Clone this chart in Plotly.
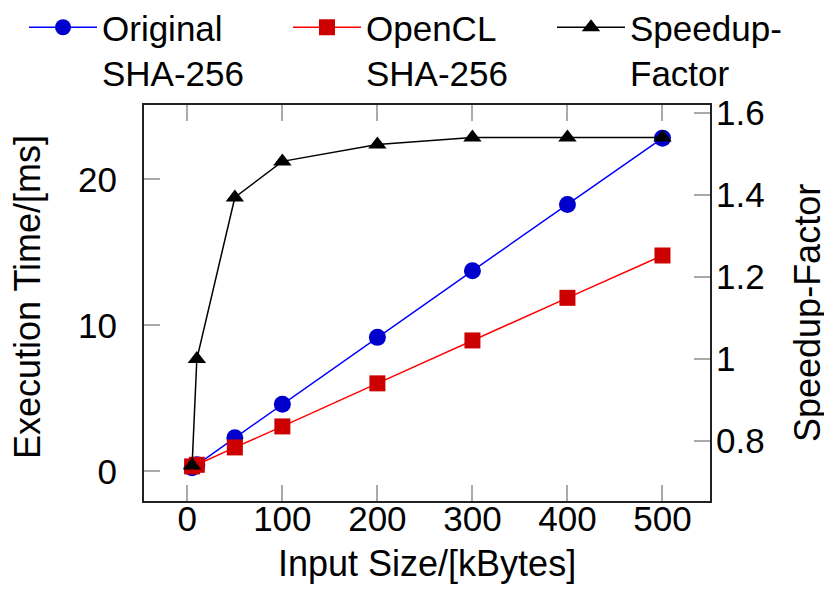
import plotly.graph_objects as go

input_size = [5, 10, 50, 100, 200, 300, 400, 500]
original_sha = [0.25, 0.45, 2.3, 4.6, 9.18, 13.74, 18.29, 22.83]
opencl_sha = [0.34, 0.45, 1.64, 3.08, 6.03, 8.97, 11.89, 14.79]
speedup = [0.74, 1.0, 1.394, 1.482, 1.523, 1.54, 1.54, 1.54]

names = ["Original<br>SHA-256", "OpenCL<br>SHA-256", "Speedup-<br>Factor"]
x_ticks = [0, 100, 200, 300, 400, 500]
y_ticks = [0, 10, 20]
y2_ticks = [0.8, 1.0, 1.2, 1.4, 1.6]
y2_labels = ["0.8", "1", "1.2", "1.4", "1.6"]
x_title = "Input Size/[kBytes]"
y_title = "Execution Time/[ms]"
y2_title = "Speedup-Factor"

FONT = "Liberation Sans, Arial, Helvetica, sans-serif"
PLOT_L, PLOT_R, PLOT_T, PLOT_B = 136, 702, 97, 493
PLOT_W, PLOT_H = PLOT_R - PLOT_L, PLOT_B - PLOT_T

fig = go.Figure()
fig.add_trace(go.Scatter(
    x=input_size, y=original_sha, name=names[0], mode="lines+markers", legend="legend",
    line=dict(color="#0000ff", width=1.5),
    marker=dict(symbol="circle", size=17, color="#0000cc", line=dict(color="#0000cc", width=0)),
))
fig.add_trace(go.Scatter(
    x=input_size, y=opencl_sha, name=names[1], mode="lines+markers", legend="legend2",
    line=dict(color="#ff0000", width=1.5),
    marker=dict(symbol="square", size=16, color="#cc0000", line=dict(color="#cc0000", width=0)),
))
fig.add_trace(go.Scatter(
    x=input_size, y=speedup, name=names[2], mode="lines+markers", yaxis="y2", legend="legend3",
    line=dict(color="#000000", width=1.5),
    marker=dict(symbol="triangle-up", size=16, color="#000000"),
))

axis_common = dict(
    showgrid=False, zeroline=False, showline=True, linecolor="#222222", linewidth=2,
    ticks="inside", ticklen=16, tickwidth=1.5, tickcolor="#aaaaaa", automargin=False,
    tickfont=dict(family=FONT, size=35, color="#000"),
)

def legend_at(xpx, top_px=-10):
    return dict(
        orientation="h", xref="container", yref="paper",
        x=xpx / 832, y=(PLOT_B - top_px) / PLOT_H,
        xanchor="left", yanchor="top",
        font=dict(family=FONT, size=35, color="#000"),
        itemwidth=68, valign="top", bgcolor="rgba(0,0,0,0)",
    )

title_font = dict(family=FONT, size=36, color="#000")
annotations = [
    dict(text=x_title, xref="paper", yref="paper", x=0.5, y=0, xanchor="center", yanchor="middle",
         yshift=-62, showarrow=False, font=title_font),
    dict(text=y_title, xref="paper", yref="paper", x=0, y=0.5, xanchor="center", yanchor="middle",
         xshift=19 - PLOT_L, yshift=6, textangle=-90, showarrow=False, font=title_font),
    dict(text=y2_title, xref="paper", yref="paper", x=1, y=0.5, xanchor="center", yanchor="middle",
         xshift=799 - PLOT_R, yshift=-10, textangle=-90, showarrow=False, font=title_font),
]

fig.update_layout(
    width=832, height=599,
    paper_bgcolor="white", plot_bgcolor="white",
    margin=dict(l=PLOT_L, r=832 - PLOT_R, t=PLOT_T, b=599 - PLOT_B, autoexpand=False),
    font=dict(family=FONT, size=36, color="#000"),
    xaxis=dict(**axis_common, mirror="ticks", range=[-45.6, 550],
               tickvals=x_ticks, ticklabelstandoff=-14),
    yaxis=dict(**axis_common, range=[-2.03, 25.1],
               tickvals=y_ticks, ticklabelstandoff=18),
    yaxis2=dict(**axis_common, overlaying="y", side="right", range=[0.6537, 1.6195],
                tickvals=y2_ticks, ticktext=y2_labels, ticklabelstandoff=-3),
    annotations=annotations,
    legend=legend_at(16),
    legend2=legend_at(280),
    legend3=legend_at(544),
    showlegend=True,
)

fig.write_html("out.html")
